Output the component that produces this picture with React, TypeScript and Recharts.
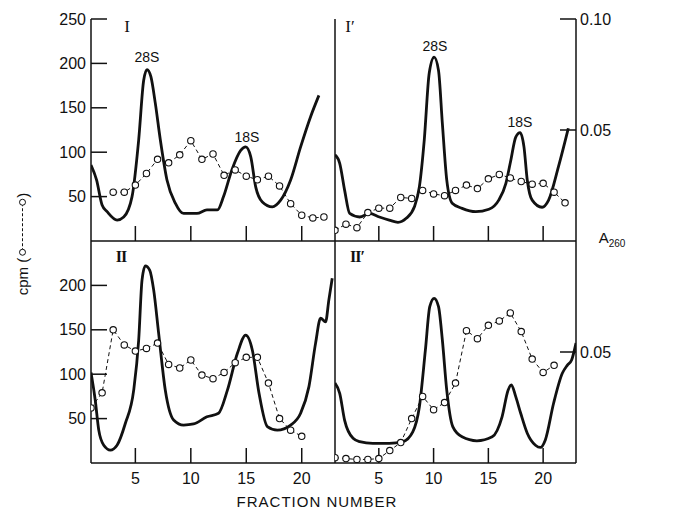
import React from 'react'
import { ComposedChart, Line, XAxis, YAxis } from 'recharts'

const FRAC_TICKS = [5, 10, 15, 20]
const CPM_TICKS_TOP = [50, 100, 150, 200, 250]
const CPM_TICKS_BOTTOM = [50, 100, 150, 200]
const A260_TICKS_TOP = [0.05, 0.1]
const A260_TICKS_BOTTOM = [0.05]

// panel I  — A260 trace (solid) and cpm (circles)
const solidFracI = [1, 1.5, 2, 2.45, 3.35, 3.95, 4.7, 5.3, 5.75, 6.05, 6.4, 6.8, 7.25, 7.85, 8.6, 9.35, 10.55, 11.45, 12.4, 12.95, 13.7, 14.5, 14.95, 15.4, 15.85, 16.45, 17.35, 18.1, 19, 19.9, 20.8, 21.55]
const solidI = [0.0342, 0.0275, 0.0162, 0.0132, 0.0094, 0.0108, 0.02, 0.0456, 0.0724, 0.0772, 0.074, 0.062, 0.0456, 0.0275, 0.0171, 0.0124, 0.0124, 0.014, 0.014, 0.02, 0.032, 0.0408, 0.0424, 0.038, 0.0244, 0.0176, 0.0154, 0.0184, 0.0275, 0.0424, 0.056, 0.0656]
const dotFracI = [3, 4, 5, 6, 7, 8, 9, 10, 11, 12, 13, 14, 15, 16, 17, 18, 19, 20, 21, 22]
const cpmI = [55, 55, 63, 76, 92, 88, 97, 113, 92, 98, 74, 80, 73, 69, 73, 62, 42, 29, 26, 27]

// panel I'
const solidFracI2 = [1, 1.43, 1.88, 2.34, 3.25, 4.15, 5.05, 5.95, 6.75, 7.5, 8.25, 8.7, 9.15, 9.6, 10.05, 10.45, 10.8, 11.2, 11.7, 12.6, 13.85, 15.05, 15.95, 16.6, 17.05, 17.5, 17.9, 18.25, 18.55, 19, 19.9, 20.5, 21.4, 22.3]
const solidI2 = [0.0388, 0.035, 0.0228, 0.0124, 0.0108, 0.0124, 0.0108, 0.0094, 0.0084, 0.0102, 0.0154, 0.0244, 0.0456, 0.0756, 0.0828, 0.0768, 0.053, 0.0275, 0.017, 0.0147, 0.0132, 0.0143, 0.0184, 0.026, 0.0364, 0.0468, 0.0488, 0.0424, 0.0275, 0.0184, 0.0152, 0.0184, 0.0335, 0.0508]
const dotFracI2 = [1, 2, 3, 4, 5, 6, 7, 8, 9, 10, 11, 12, 13, 14, 15, 16, 17, 18, 19, 20, 21, 22]
const cpmI2 = [12, 19, 15, 32, 37, 37, 49, 48, 57, 53, 51, 57, 63, 59, 70, 75, 71, 67, 64, 65, 55, 43]

// panel II
const solidFracII = [1, 1.38, 1.7, 2.15, 2.75, 3.35, 4.1, 4.85, 5.3, 5.6, 5.9, 6.3, 6.65, 7.1, 7.7, 8.45, 9.35, 10.25, 11.45, 12.5, 13.3, 14.2, 14.95, 15.55, 16.15, 16.9, 17.8, 19, 19.9, 20.65, 21.25, 21.7, 22.15, 22.45, 22.75]
const solidII = [0.0408, 0.0284, 0.0148, 0.008, 0.0058, 0.008, 0.0179, 0.0328, 0.0554, 0.0824, 0.0888, 0.0868, 0.078, 0.0584, 0.0328, 0.0194, 0.0171, 0.0176, 0.0208, 0.0224, 0.0328, 0.0494, 0.0576, 0.0508, 0.0314, 0.0164, 0.0148, 0.0171, 0.0224, 0.0344, 0.054, 0.0652, 0.0636, 0.0736, 0.0832]
const dotFracII = [1, 2, 3, 4, 5, 6, 7, 8, 9, 10, 11, 12, 13, 14, 15, 16, 17, 18, 19, 20]
const cpmII = [62, 79, 150, 133, 126, 129, 135, 111, 107, 116, 99, 95, 102, 113, 119, 119, 90, 50, 37, 30]

// panel II'
const solidFracII2 = [1, 1.43, 1.88, 2.65, 3.25, 4.45, 5.95, 7.2, 8.1, 8.7, 9.25, 9.65, 10.05, 10.45, 10.8, 11.2, 11.75, 12.6, 13.95, 15.35, 16.25, 16.8, 17.1, 17.5, 17.95, 18.55, 19.3, 19.75, 20.2, 20.95, 21.75, 22.2, 22.6, 23]
const solidII2 = [0.036, 0.0314, 0.0192, 0.0111, 0.0096, 0.0088, 0.0088, 0.0096, 0.014, 0.0252, 0.0508, 0.0704, 0.0742, 0.0704, 0.0554, 0.0328, 0.0164, 0.0118, 0.01, 0.0118, 0.0208, 0.0328, 0.0352, 0.0299, 0.0224, 0.0134, 0.008, 0.007, 0.0104, 0.0268, 0.0404, 0.044, 0.0464, 0.054]
const dotFracII2 = [1, 2, 3, 4, 5, 6, 7, 8, 9, 10, 11, 12, 13, 14, 15, 16, 17, 18, 19, 20, 21]
const cpmII2 = [6, 5, 4, 4, 5, 14, 23, 50, 75, 60, 68, 90, 149, 140, 155, 160, 169, 148, 117, 102, 110]

const zip = (fs: number[], vs: number[]) => fs.map((f, i) => ({ f, v: vs[i] }))

const SANS = '"Liberation Sans", Arial, sans-serif'
const SERIF = '"Liberation Serif", "Times New Roman", serif'
const INK = '#111'
const tickStyle = { fontSize: 16, fill: INK, fontFamily: SANS }

function Panel({ isLeft, isBottom, solid, dots }: {
  isLeft: boolean; isBottom: boolean
  solid: { f: number; v: number }[]; dots: { f: number; v: number }[]
}) {
  const w = isLeft ? 345 : 361
  const h = isBottom ? 294 : 260
  return (
    <div style={{ position: 'absolute', left: isLeft ? 0 : 325, top: isBottom ? 222 : 0, width: w, height: h }}>
      <ComposedChart width={w} height={h} margin={{ top: 19, right: isLeft ? 10 : 0, left: 0, bottom: 0 }}>
        <XAxis dataKey="f" type="number" domain={[1, 23]} allowDataOverflow ticks={FRAC_TICKS}
          height={isBottom ? 53 : 19} stroke={INK} strokeWidth={1.5}
          tickSize={-15} tickMargin={isBottom ? 25 : 0}
          tick={tickStyle} tickFormatter={v => (isBottom ? String(v) : '')} />
        <YAxis yAxisId="cpm" orientation="left" domain={[0, 250]} allowDataOverflow
          width={isLeft ? 91 : 10} stroke={INK} strokeWidth={1.5}
          ticks={isLeft ? (isBottom ? CPM_TICKS_BOTTOM : CPM_TICKS_TOP) : []}
          tick={isLeft ? tickStyle : false} tickLine={isLeft}
          tickSize={-16} tickMargin={21} />
        <YAxis yAxisId="a" orientation="right" domain={[0, 0.1]} allowDataOverflow
          hide={isLeft} width={110} stroke={INK} strokeWidth={1.5}
          ticks={isBottom ? A260_TICKS_BOTTOM : A260_TICKS_TOP}
          tick={tickStyle} tickSize={-16} tickMargin={20}
          tickFormatter={v => v.toFixed(2)} />
        <Line yAxisId="a" data={solid} dataKey="v" type="monotone" stroke={INK} strokeWidth={2.8}
          dot={false} isAnimationActive={false} />
        <Line yAxisId="cpm" data={dots} dataKey="v" type="linear" stroke={INK} strokeWidth={1}
          strokeDasharray="4 3"
          dot={{ r: 3.2, fill: '#fff', stroke: INK, strokeWidth: 1.1, strokeDasharray: 'none' }}
          isAnimationActive={false} />
      </ComposedChart>
    </div>
  )
}

const txt = (x: number, y: number, s: React.ReactNode, extra: React.CSSProperties = {}) => (
  <div style={{ position: 'absolute', left: x, top: y, transform: 'translate(-50%, -50%)', whiteSpace: 'nowrap',
    fontFamily: SANS, fontSize: 14, color: INK, lineHeight: 1, ...extra }}>{s}</div>
)

export default function App() {
  return (
    <div style={{ position: 'absolute', left: 0, top: 0, width: 686, height: 516, background: '#fff', overflow: 'hidden' }}>
      <Panel isLeft isBottom={false} solid={zip(solidFracI, solidI)} dots={zip(dotFracI, cpmI)} />
      <Panel isLeft={false} isBottom={false} solid={zip(solidFracI2, solidI2)} dots={zip(dotFracI2, cpmI2)} />
      <Panel isLeft isBottom solid={zip(solidFracII, solidII)} dots={zip(dotFracII, cpmII)} />
      <Panel isLeft={false} isBottom solid={zip(solidFracII2, solidII2)} dots={zip(dotFracII2, cpmII2)} />

      {txt(127, 26, 'I', { fontFamily: SERIF, fontSize: 17 })}
      {txt(350, 26, 'I′', { fontFamily: SERIF, fontSize: 17 })}
      {txt(121, 257, 'II', { fontFamily: SERIF, fontSize: 16, fontWeight: 'bold', letterSpacing: -1 })}
      {txt(357, 257, 'II′', { fontFamily: SERIF, fontSize: 16, fontWeight: 'bold', letterSpacing: -1 })}

      {txt(147, 57, '28S')}
      {txt(247, 137, '18S')}
      {txt(435, 46, '28S')}
      {txt(520, 122, '18S')}

      {txt(317, 501, 'FRACTION NUMBER', { fontSize: 15, letterSpacing: 1 })}
      {txt(612, 239, <span>A<sub style={{ fontSize: 10 }}>260</sub></span>, { fontSize: 15 })}
      <div style={{ position: 'absolute', left: 22, top: 244, transform: 'translate(-50%, -50%) rotate(-90deg)',
        whiteSpace: 'nowrap', fontFamily: SANS, fontSize: 15, color: INK, display: 'flex', alignItems: 'center' }}>
        <span>cpm (</span>
        <svg width={60} height={10}>
          <line x1={6} y1={5} x2={54} y2={5} stroke={INK} strokeDasharray="3 2" />
          <circle cx={5} cy={5} r={3} fill="#fff" stroke={INK} />
          <circle cx={55} cy={5} r={3} fill="#fff" stroke={INK} />
        </svg>
        <span>)</span>
      </div>
    </div>
  )
}
